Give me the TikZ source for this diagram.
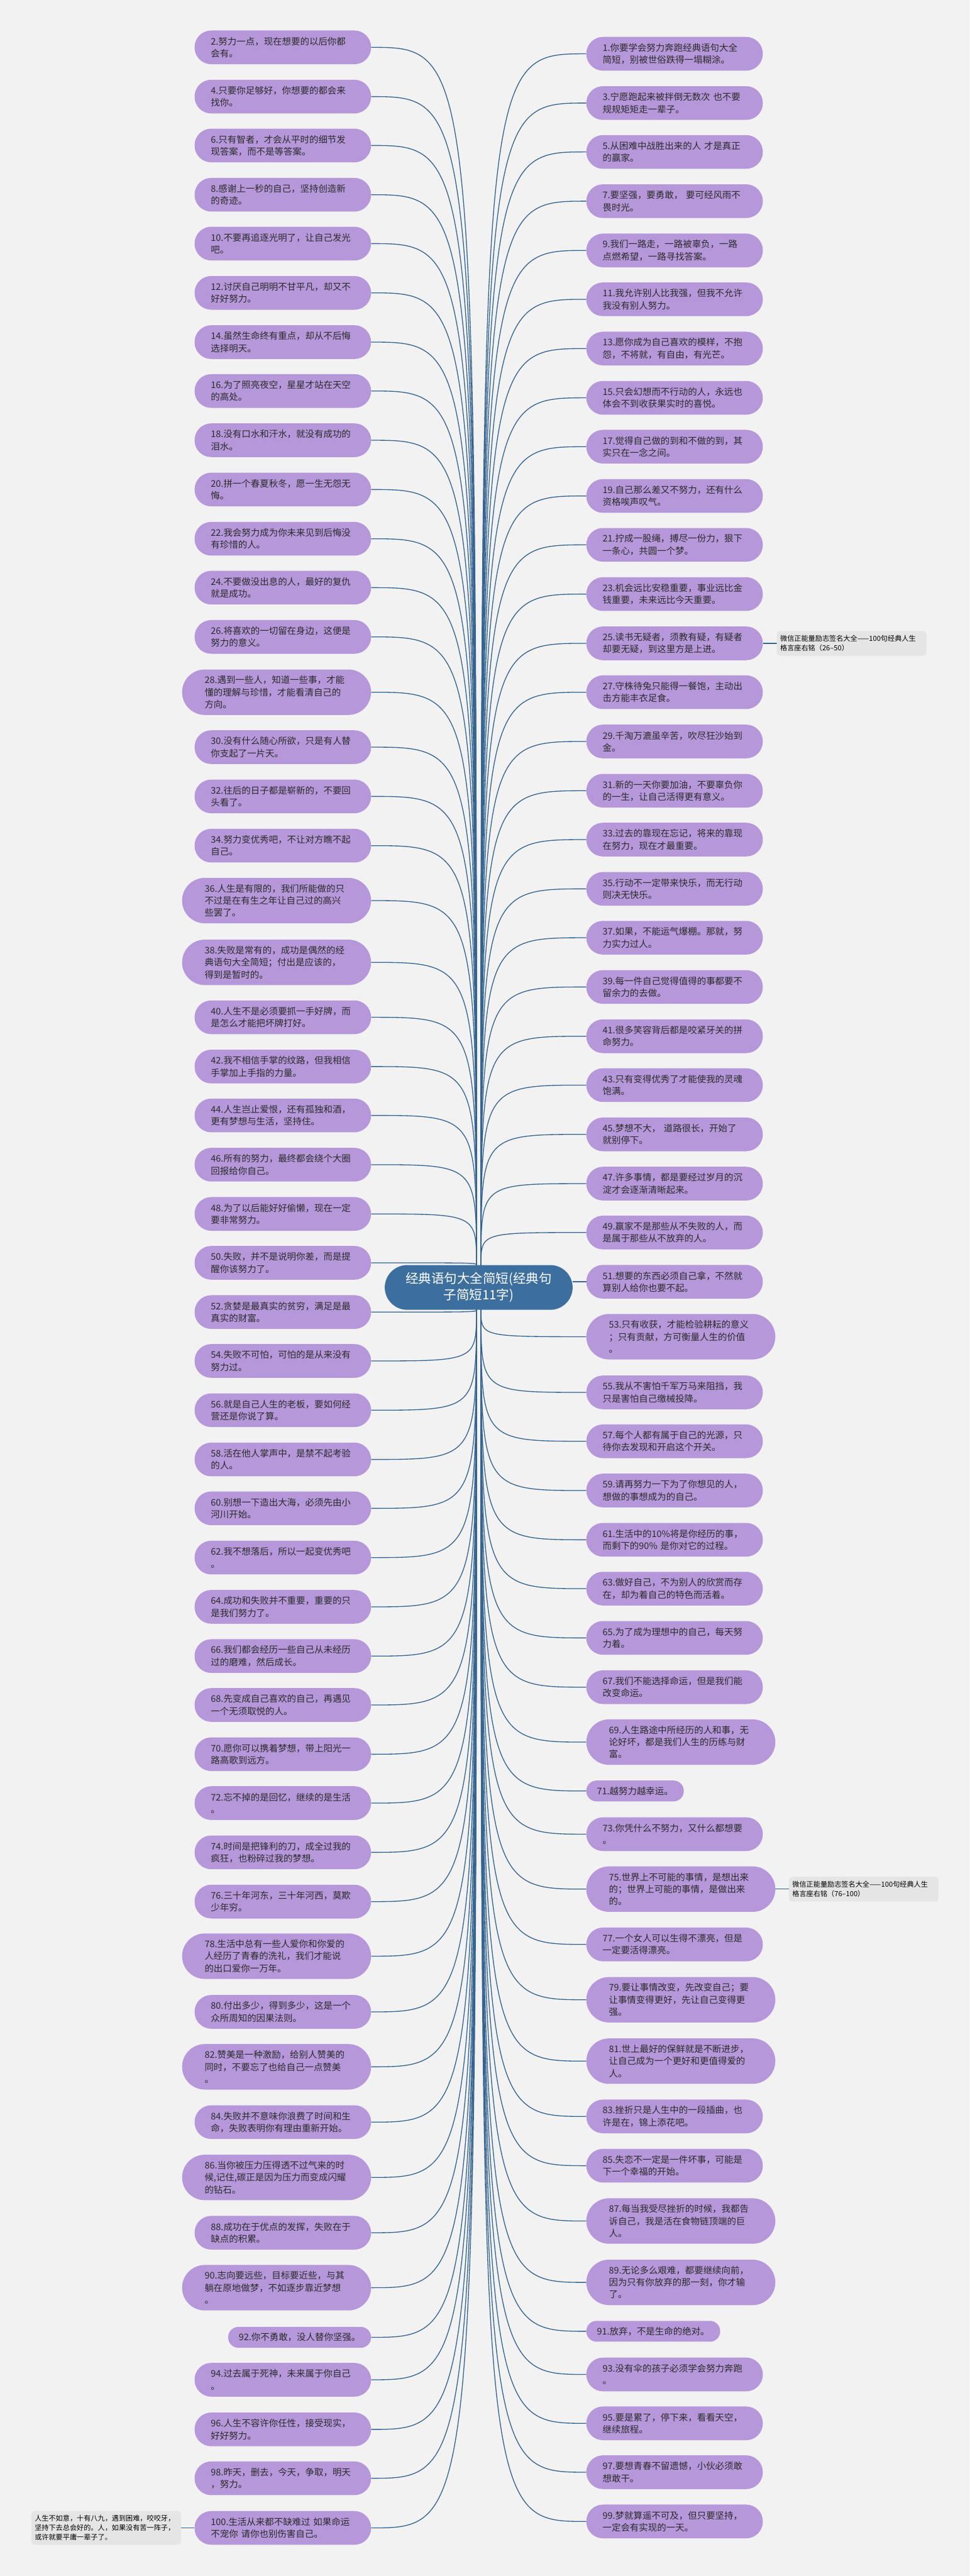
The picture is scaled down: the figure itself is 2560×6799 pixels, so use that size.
\documentclass[tikz,border=0pt]{standalone}
\usepackage{fontspec}
\setmainfont{Noto Sans CJK SC}
\usetikzlibrary{positioning}
\pgfdeclarelayer{background}
\pgfsetlayers{background,main}
\definecolor{paper}{HTML}{F2F2F2}
\definecolor{lilac}{HTML}{B597DA}
\definecolor{ink}{HTML}{2B2B2B}
\definecolor{steel}{HTML}{3C6E9E}
\definecolor{wire}{HTML}{34648F}
\definecolor{shade}{HTML}{E5E5E5}

\begin{document}
\begin{tikzpicture}[x=1pt, y=-1pt,
    bubble/.style={rectangle, fill=lilac, text=ink, font=\fontsize{24}{32}\selectfont, align=left, inner ysep=0pt},
    quote/.style={bubble, text width=380pt, inner xsep=43pt, minimum height=89pt, rounded corners=44pt},
    tall/.style={inner xsep=59.5pt, minimum height=120pt, rounded corners=60pt},
    short/.style={bubble, inner xsep=28pt, minimum height=55pt, rounded corners=27pt},
    hub/.style={rectangle, fill=steel, text=white, font=\fontsize{34}{43}\selectfont, align=center, minimum width=496pt, minimum height=118pt, rounded corners=59pt},
    note/.style={rectangle, fill=shade, text=black, font=\fontsize{18.5}{25}\selectfont, align=left, text width=377pt, inner xsep=9pt, inner ysep=0pt, minimum height=65pt, rounded corners=8pt},
    link/.style={draw=wire, line width=2.2pt}]

        \node [hub] (hub) at (1264,3398) {经典语句大全简短(经典句\\子简短11字)};
        \coordinate (tl) at ([xshift=-6pt]hub.north);
        \coordinate (tr) at ([xshift=6pt]hub.north);
        \coordinate (bl) at ([xshift=-6pt]hub.south);
        \coordinate (br) at ([xshift=6pt]hub.south);

        % left branch
        \node [quote, anchor=east] (l2) at (980,125) {2.努力一点，现在想要的以后你都\\会有。};
        \node [quote, anchor=east] (l4) at (980,255) {4.只要你足够好，你想要的都会来\\找你。};
        \node [quote, anchor=east] (l6) at (980,384) {6.只有智者，才会从平时的细节发\\现答案，而不是等答案。};
        \node [quote, anchor=east] (l8) at (980,514) {8.感谢上一秒的自己，坚持创造新\\的奇迹。};
        \node [quote, anchor=east] (l10) at (980,643) {10.不要再追逐光明了，让自己发光\\吧。};
        \node [quote, anchor=east] (l12) at (980,773) {12.讨厌自己明明不甘平凡，却又不\\好好努力。};
        \node [quote, anchor=east] (l14) at (980,903) {14.虽然生命终有重点，却从不后悔\\选择明天。};
        \node [quote, anchor=east] (l16) at (980,1032) {16.为了照亮夜空，星星才站在天空\\的高处。};
        \node [quote, anchor=east] (l18) at (980,1162) {18.没有口水和汗水，就没有成功的\\泪水。};
        \node [quote, anchor=east] (l20) at (980,1292) {20.拼一个春夏秋冬，愿一生无怨无\\悔。};
        \node [quote, anchor=east] (l22) at (980,1422) {22.我会努力成为你未来见到后悔没\\有珍惜的人。};
        \node [quote, anchor=east] (l24) at (980,1551) {24.不要做没出息的人，最好的复仇\\就是成功。};
        \node [quote, anchor=east] (l26) at (980,1681) {26.将喜欢的一切留在身边，这便是\\努力的意义。};
        \node [quote, tall, anchor=east] (l28) at (980,1827) {28.遇到一些人，知道一些事，才能\\懂的理解与珍惜，才能看清自己的\\方向。};
        \node [quote, anchor=east] (l30) at (980,1972) {30.没有什么随心所欲，只是有人替\\你支起了一片天。};
        \node [quote, anchor=east] (l32) at (980,2102) {32.往后的日子都是崭新的，不要回\\头看了。};
        \node [quote, anchor=east] (l34) at (980,2232) {34.努力变优秀吧，不让对方瞧不起\\自己。};
        \node [quote, tall, anchor=east] (l36) at (980,2377) {36.人生是有限的，我们所能做的只\\不过是在有生之年让自己过的高兴\\些罢了。};
        \node [quote, tall, anchor=east] (l38) at (980,2540) {38.失败是常有的，成功是偶然的经\\典语句大全简短；付出是应该的，\\得到是暂时的。};
        \node [quote, anchor=east] (l40) at (980,2685) {40.人生不是必须要抓一手好牌，而\\是怎么才能把坏牌打好。};
        \node [quote, anchor=east] (l42) at (980,2815) {42.我不相信手掌的纹路，但我相信\\手掌加上手指的力量。};
        \node [quote, anchor=east] (l44) at (980,2944) {44.人生岂止爱恨，还有孤独和酒，\\更有梦想与生活，坚持住。};
        \node [quote, anchor=east] (l46) at (980,3074) {46.所有的努力，最终都会绕个大圈\\回报给你自己。};
        \node [quote, anchor=east] (l48) at (980,3204) {48.为了以后能好好偷懒，现在一定\\要非常努力。};
        \node [quote, anchor=east] (l50) at (980,3333) {50.失败，并不是说明你差，而是提\\醒你该努力了。};
        \node [quote, anchor=east] (l52) at (980,3463) {52.贪婪是最真实的贫穷，满足是最\\真实的财富。};
        \node [quote, anchor=east] (l54) at (980,3592) {54.失败不可怕，可怕的是从来没有\\努力过。};
        \node [quote, anchor=east] (l56) at (980,3722) {56.就是自己人生的老板，要如何经\\营还是你说了算。};
        \node [quote, anchor=east] (l58) at (980,3852) {58.活在他人掌声中，是禁不起考验\\的人。};
        \node [quote, anchor=east] (l60) at (980,3981) {60.别想一下造出大海，必须先由小\\河川开始。};
        \node [quote, anchor=east] (l62) at (980,4111) {62.我不想落后，所以一起变优秀吧\\。};
        \node [quote, anchor=east] (l64) at (980,4241) {64.成功和失败并不重要，重要的只\\是我们努力了。};
        \node [quote, anchor=east] (l66) at (980,4371) {66.我们都会经历一些自己从未经历\\过的磨难，然后成长。};
        \node [quote, anchor=east] (l68) at (980,4500) {68.先变成自己喜欢的自己，再遇见\\一个无须取悦的人。};
        \node [quote, anchor=east] (l70) at (980,4630) {70.愿你可以携着梦想，带上阳光一\\路高歌到远方。};
        \node [quote, anchor=east] (l72) at (980,4759) {72.忘不掉的是回忆，继续的是生活\\。};
        \node [quote, anchor=east] (l74) at (980,4889) {74.时间是把锋利的刀，成全过我的\\疯狂，也粉碎过我的梦想。};
        \node [quote, anchor=east] (l76) at (980,5019) {76.三十年河东，三十年河西，莫欺\\少年穷。};
        \node [quote, tall, anchor=east] (l78) at (980,5163) {78.生活中总有一些人爱你和你爱的\\人经历了青春的洗礼，我们才能说\\的出口爱你一万年。};
        \node [quote, anchor=east] (l80) at (980,5310) {80.付出多少，得到多少，这是一个\\众所周知的因果法则。};
        \node [quote, tall, anchor=east] (l82) at (980,5455) {82.赞美是一种激励，给别人赞美的\\同时，不要忘了也给自己一点赞美\\。};
        \node [quote, anchor=east] (l84) at (980,5601) {84.失败并不意味你浪费了时间和生\\命，失败表明你有理由重新开始。};
        \node [quote, tall, anchor=east] (l86) at (980,5747) {86.当你被压力压得透不过气来的时\\候,记住,碳正是因为压力而变成闪耀\\的钻石。};
        \node [quote, anchor=east] (l88) at (980,5893) {88.成功在于优点的发挥，失败在于\\缺点的积累。};
        \node [quote, tall, anchor=east] (l90) at (980,6038) {90.志向要远些，目标要近些，与其\\躺在原地做梦，不如逐步靠近梦想\\。};
        \node [short, anchor=east] (l92) at (980,6169) {92.你不勇敢，没人替你坚强。};
        \node [quote, anchor=east] (l94) at (980,6281) {94.过去属于死神，未来属于你自己\\。};
        \node [quote, anchor=east] (l96) at (980,6412) {96.人生不容许你任性，接受现实，\\好好努力。};
        \node [quote, anchor=east] (l98) at (980,6541) {98.昨天，删去，今天，争取，明天\\，努力。};
        \node [quote, anchor=east] (l100) at (980,6672) {100.生活从来都不缺难过 如果命运\\不宠你 请你也别伤害自己。};

        % right branch
        \node [quote, anchor=west] (r1) at (1548,142) {1.你要学会努力奔跑经典语句大全\\简短，别被世俗跌得一塌糊涂。};
        \node [quote, anchor=west] (r3) at (1548,272) {3.宁愿跑起来被拌倒无数次 也不要\\规规矩矩走一辈子。};
        \node [quote, anchor=west] (r5) at (1548,401) {5.从困难中战胜出来的人 才是真正\\的赢家。};
        \node [quote, anchor=west] (r7) at (1548,531) {7.要坚强，要勇敢， 要可经风雨不\\畏时光。};
        \node [quote, anchor=west] (r9) at (1548,661) {9.我们一路走，一路被辜负，一路\\点燃希望，一路寻找答案。};
        \node [quote, anchor=west] (r11) at (1548,790) {11.我允许别人比我强，但我不允许\\我没有别人努力。};
        \node [quote, anchor=west] (r13) at (1548,920) {13.愿你成为自己喜欢的模样，不抱\\怨，不将就，有自由，有光芒。};
        \node [quote, anchor=west] (r15) at (1548,1050) {15.只会幻想而不行动的人，永远也\\体会不到收获果实时的喜悦。};
        \node [quote, anchor=west] (r17) at (1548,1179) {17.觉得自己做的到和不做的到，其\\实只在一念之间。};
        \node [quote, anchor=west] (r19) at (1548,1309) {19.自己那么差又不努力，还有什么\\资格唉声叹气。};
        \node [quote, anchor=west] (r21) at (1548,1438) {21.拧成一股绳，搏尽一份力，狠下\\一条心，共圆一个梦。};
        \node [quote, anchor=west] (r23) at (1548,1568) {23.机会远比安稳重要，事业远比金\\钱重要，未来远比今天重要。};
        \node [quote, anchor=west] (r25) at (1548,1698) {25.读书无疑者，须教有疑，有疑者\\却要无疑，到这里方是上进。};
        \node [quote, anchor=west] (r27) at (1548,1827) {27.守株待兔只能得一餐饱，主动出\\击方能丰衣足食。};
        \node [quote, anchor=west] (r29) at (1548,1957) {29.千淘万漉虽辛苦，吹尽狂沙始到\\金。};
        \node [quote, anchor=west] (r31) at (1548,2087) {31.新的一天你要加油，不要辜负你\\的一生，让自己活得更有意义。};
        \node [quote, anchor=west] (r33) at (1548,2216) {33.过去的靠现在忘记，将来的靠现\\在努力，现在才最重要。};
        \node [quote, anchor=west] (r35) at (1548,2346) {35.行动不一定带来快乐，而无行动\\则决无快乐。};
        \node [quote, anchor=west] (r37) at (1548,2475) {37.如果，不能运气爆棚。那就，努\\力实力过人。};
        \node [quote, anchor=west] (r39) at (1548,2605) {39.每一件自己觉得值得的事都要不\\留余力的去做。};
        \node [quote, anchor=west] (r41) at (1548,2735) {41.很多笑容背后都是咬紧牙关的拼\\命努力。};
        \node [quote, anchor=west] (r43) at (1548,2864) {43.只有变得优秀了才能使我的灵魂\\饱满。};
        \node [quote, anchor=west] (r45) at (1548,2994) {45.梦想不大， 道路很长，开始了\\就别停下。};
        \node [quote, anchor=west] (r47) at (1548,3124) {47.许多事情，都是要经过岁月的沉\\淀才会逐渐清晰起来。};
        \node [quote, anchor=west] (r49) at (1548,3253) {49.赢家不是那些从不失败的人，而\\是属于那些从不放弃的人。};
        \node [quote, anchor=west] (r51) at (1548,3383) {51.想要的东西必须自己拿，不然就\\算别人给你也要不起。};
        \node [quote, tall, anchor=west] (r53) at (1548,3528) {53.只有收获，才能检验耕耘的意义\\；只有贡献，方可衡量人生的价值\\。};
        \node [quote, anchor=west] (r55) at (1548,3675) {55.我从不害怕千军万马来阻挡，我\\只是害怕自己缴械投降。};
        \node [quote, anchor=west] (r57) at (1548,3804) {57.每个人都有属于自己的光源，只\\待你去发现和开启这个开关。};
        \node [quote, anchor=west] (r59) at (1548,3934) {59.请再努力一下为了你想见的人，\\想做的事想成为的自己。};
        \node [quote, anchor=west] (r61) at (1548,4064) {61.生活中的10\%将是你经历的事，\\而剩下的90\% 是你对它的过程。};
        \node [quote, anchor=west] (r63) at (1548,4193) {63.做好自己，不为别人的欣赏而存\\在，却为着自己的特色而活着。};
        \node [quote, anchor=west] (r65) at (1548,4323) {65.为了成为理想中的自己，每天努\\力着。};
        \node [quote, anchor=west] (r67) at (1548,4453) {67.我们不能选择命运，但是我们能\\改变命运。};
        \node [quote, tall, anchor=west] (r69) at (1548,4598) {69.人生路途中所经历的人和事，无\\论好坏，都是我们人生的历练与财\\富。};
        \node [short, anchor=west] (r71) at (1548,4727) {71.越努力越幸运。};
        \node [quote, anchor=west] (r73) at (1548,4841) {73.你凭什么不努力，又什么都想要\\。};
        \node [quote, tall, anchor=west] (r75) at (1548,4986) {75.世界上不可能的事情，是想出来\\的；世界上可能的事情，是做出来\\的。};
        \node [quote, anchor=west] (r77) at (1548,5132) {77.一个女人可以生得不漂亮，但是\\一定要活得漂亮。};
        \node [quote, tall, anchor=west] (r79) at (1548,5278) {79.要让事情改变，先改变自己；要\\让事情变得更好，先让自己变得更\\强。};
        \node [quote, tall, anchor=west] (r81) at (1548,5440) {81.世上最好的保鲜就是不断进步，\\让自己成为一个更好和更值得爱的\\人。};
        \node [quote, anchor=west] (r83) at (1548,5586) {83.挫折只是人生中的一段插曲，也\\许是在，锦上添花吧。};
        \node [quote, anchor=west] (r85) at (1548,5716) {85.失恋不一定是一件坏事，可能是\\下一个幸福的开始。};
        \node [quote, tall, anchor=west] (r87) at (1548,5862) {87.每当我受尽挫折的时候，我都告\\诉自己，我是活在食物链顶端的巨\\人。};
        \node [quote, tall, anchor=west] (r89) at (1548,6024) {89.无论多么艰难，都要继续向前，\\因为只有你放弃的那一刻，你才输\\了。};
        \node [short, anchor=west] (r91) at (1548,6153) {91.放弃，不是生命的绝对。};
        \node [quote, anchor=west] (r93) at (1548,6267) {93.没有伞的孩子必须学会努力奔跑\\。};
        \node [quote, anchor=west] (r95) at (1548,6396) {95.要是累了，停下来，看看天空，\\继续旅程。};
        \node [quote, anchor=west] (r97) at (1548,6525) {97.要想青春不留遗憾，小伙必须敢\\想敢干。};
        \node [quote, anchor=west] (r99) at (1548,6655) {99.梦就算遥不可及，但只要坚持，\\一定会有实现的一天。};

        % side notes
        \node [note, anchor=west] (n25) at (2051,1698) {微信正能量励志签名大全——100句经典人生\\格言座右铭（26–50）};
        \node [note, anchor=west] (n75) at (2083,4986) {微信正能量励志签名大全——100句经典人生\\格言座右铭（76–100）};
        \node [note, anchor=east, minimum height=89pt] (n100) at (478,6672) {人生不如意，十有八九，遇到困难，咬咬牙，\\坚持下去总会好的。人，如果没有苦一阵子，\\或许就要平庸一辈子了。};

        \begin{pgfonlayer}{background}
        \fill [paper] (0,0) rectangle (2560,6799);
        \draw [link] (l2.east) .. controls (tl |- l2.east) .. (tl);
        \draw [link] (l4.east) .. controls (tl |- l4.east) .. (tl);
        \draw [link] (l6.east) .. controls (tl |- l6.east) .. (tl);
        \draw [link] (l8.east) .. controls (tl |- l8.east) .. (tl);
        \draw [link] (l10.east) .. controls (tl |- l10.east) .. (tl);
        \draw [link] (l12.east) .. controls (tl |- l12.east) .. (tl);
        \draw [link] (l14.east) .. controls (tl |- l14.east) .. (tl);
        \draw [link] (l16.east) .. controls (tl |- l16.east) .. (tl);
        \draw [link] (l18.east) .. controls (tl |- l18.east) .. (tl);
        \draw [link] (l20.east) .. controls (tl |- l20.east) .. (tl);
        \draw [link] (l22.east) .. controls (tl |- l22.east) .. (tl);
        \draw [link] (l24.east) .. controls (tl |- l24.east) .. (tl);
        \draw [link] (l26.east) .. controls (tl |- l26.east) .. (tl);
        \draw [link] (l28.east) .. controls (tl |- l28.east) .. (tl);
        \draw [link] (l30.east) .. controls (tl |- l30.east) .. (tl);
        \draw [link] (l32.east) .. controls (tl |- l32.east) .. (tl);
        \draw [link] (l34.east) .. controls (tl |- l34.east) .. (tl);
        \draw [link] (l36.east) .. controls (tl |- l36.east) .. (tl);
        \draw [link] (l38.east) .. controls (tl |- l38.east) .. (tl);
        \draw [link] (l40.east) .. controls (tl |- l40.east) .. (tl);
        \draw [link] (l42.east) .. controls (tl |- l42.east) .. (tl);
        \draw [link] (l44.east) .. controls (tl |- l44.east) .. (tl);
        \draw [link] (l46.east) .. controls (tl |- l46.east) .. (tl);
        \draw [link] (l48.east) .. controls (tl |- l48.east) .. (tl);
        \draw [link] (l50.east) .. controls (tl |- l50.east) .. (tl);
        \draw [link] (l52.east) .. controls (bl |- l52.east) .. (bl);
        \draw [link] (l54.east) .. controls (bl |- l54.east) .. (bl);
        \draw [link] (l56.east) .. controls (bl |- l56.east) .. (bl);
        \draw [link] (l58.east) .. controls (bl |- l58.east) .. (bl);
        \draw [link] (l60.east) .. controls (bl |- l60.east) .. (bl);
        \draw [link] (l62.east) .. controls (bl |- l62.east) .. (bl);
        \draw [link] (l64.east) .. controls (bl |- l64.east) .. (bl);
        \draw [link] (l66.east) .. controls (bl |- l66.east) .. (bl);
        \draw [link] (l68.east) .. controls (bl |- l68.east) .. (bl);
        \draw [link] (l70.east) .. controls (bl |- l70.east) .. (bl);
        \draw [link] (l72.east) .. controls (bl |- l72.east) .. (bl);
        \draw [link] (l74.east) .. controls (bl |- l74.east) .. (bl);
        \draw [link] (l76.east) .. controls (bl |- l76.east) .. (bl);
        \draw [link] (l78.east) .. controls (bl |- l78.east) .. (bl);
        \draw [link] (l80.east) .. controls (bl |- l80.east) .. (bl);
        \draw [link] (l82.east) .. controls (bl |- l82.east) .. (bl);
        \draw [link] (l84.east) .. controls (bl |- l84.east) .. (bl);
        \draw [link] (l86.east) .. controls (bl |- l86.east) .. (bl);
        \draw [link] (l88.east) .. controls (bl |- l88.east) .. (bl);
        \draw [link] (l90.east) .. controls (bl |- l90.east) .. (bl);
        \draw [link] (l92.east) .. controls (bl |- l92.east) .. (bl);
        \draw [link] (l94.east) .. controls (bl |- l94.east) .. (bl);
        \draw [link] (l96.east) .. controls (bl |- l96.east) .. (bl);
        \draw [link] (l98.east) .. controls (bl |- l98.east) .. (bl);
        \draw [link] (l100.east) .. controls (bl |- l100.east) .. (bl);
        \draw [link] (r1.west) .. controls (tr |- r1.west) .. (tr);
        \draw [link] (r3.west) .. controls (tr |- r3.west) .. (tr);
        \draw [link] (r5.west) .. controls (tr |- r5.west) .. (tr);
        \draw [link] (r7.west) .. controls (tr |- r7.west) .. (tr);
        \draw [link] (r9.west) .. controls (tr |- r9.west) .. (tr);
        \draw [link] (r11.west) .. controls (tr |- r11.west) .. (tr);
        \draw [link] (r13.west) .. controls (tr |- r13.west) .. (tr);
        \draw [link] (r15.west) .. controls (tr |- r15.west) .. (tr);
        \draw [link] (r17.west) .. controls (tr |- r17.west) .. (tr);
        \draw [link] (r19.west) .. controls (tr |- r19.west) .. (tr);
        \draw [link] (r21.west) .. controls (tr |- r21.west) .. (tr);
        \draw [link] (r23.west) .. controls (tr |- r23.west) .. (tr);
        \draw [link] (r25.west) .. controls (tr |- r25.west) .. (tr);
        \draw [link] (r27.west) .. controls (tr |- r27.west) .. (tr);
        \draw [link] (r29.west) .. controls (tr |- r29.west) .. (tr);
        \draw [link] (r31.west) .. controls (tr |- r31.west) .. (tr);
        \draw [link] (r33.west) .. controls (tr |- r33.west) .. (tr);
        \draw [link] (r35.west) .. controls (tr |- r35.west) .. (tr);
        \draw [link] (r37.west) .. controls (tr |- r37.west) .. (tr);
        \draw [link] (r39.west) .. controls (tr |- r39.west) .. (tr);
        \draw [link] (r41.west) .. controls (tr |- r41.west) .. (tr);
        \draw [link] (r43.west) .. controls (tr |- r43.west) .. (tr);
        \draw [link] (r45.west) .. controls (tr |- r45.west) .. (tr);
        \draw [link] (r47.west) .. controls (tr |- r47.west) .. (tr);
        \draw [link] (r49.west) .. controls (tr |- r49.west) .. (tr);
        \draw [link] (r51.west) -- (hub.east |- r51.west);
        \draw [link] (r53.west) .. controls (br |- r53.west) .. (br);
        \draw [link] (r55.west) .. controls (br |- r55.west) .. (br);
        \draw [link] (r57.west) .. controls (br |- r57.west) .. (br);
        \draw [link] (r59.west) .. controls (br |- r59.west) .. (br);
        \draw [link] (r61.west) .. controls (br |- r61.west) .. (br);
        \draw [link] (r63.west) .. controls (br |- r63.west) .. (br);
        \draw [link] (r65.west) .. controls (br |- r65.west) .. (br);
        \draw [link] (r67.west) .. controls (br |- r67.west) .. (br);
        \draw [link] (r69.west) .. controls (br |- r69.west) .. (br);
        \draw [link] (r71.west) .. controls (br |- r71.west) .. (br);
        \draw [link] (r73.west) .. controls (br |- r73.west) .. (br);
        \draw [link] (r75.west) .. controls (br |- r75.west) .. (br);
        \draw [link] (r77.west) .. controls (br |- r77.west) .. (br);
        \draw [link] (r79.west) .. controls (br |- r79.west) .. (br);
        \draw [link] (r81.west) .. controls (br |- r81.west) .. (br);
        \draw [link] (r83.west) .. controls (br |- r83.west) .. (br);
        \draw [link] (r85.west) .. controls (br |- r85.west) .. (br);
        \draw [link] (r87.west) .. controls (br |- r87.west) .. (br);
        \draw [link] (r89.west) .. controls (br |- r89.west) .. (br);
        \draw [link] (r91.west) .. controls (br |- r91.west) .. (br);
        \draw [link] (r93.west) .. controls (br |- r93.west) .. (br);
        \draw [link] (r95.west) .. controls (br |- r95.west) .. (br);
        \draw [link] (r97.west) .. controls (br |- r97.west) .. (br);
        \draw [link] (r99.west) .. controls (br |- r99.west) .. (br);
        \draw [link] (r25.east) -- (n25.west);
        \draw [link] (r75.east) -- (n75.west);
        \draw [link] (l100.west) -- (n100.east);
        \end{pgfonlayer}
\end{tikzpicture}
\end{document}
